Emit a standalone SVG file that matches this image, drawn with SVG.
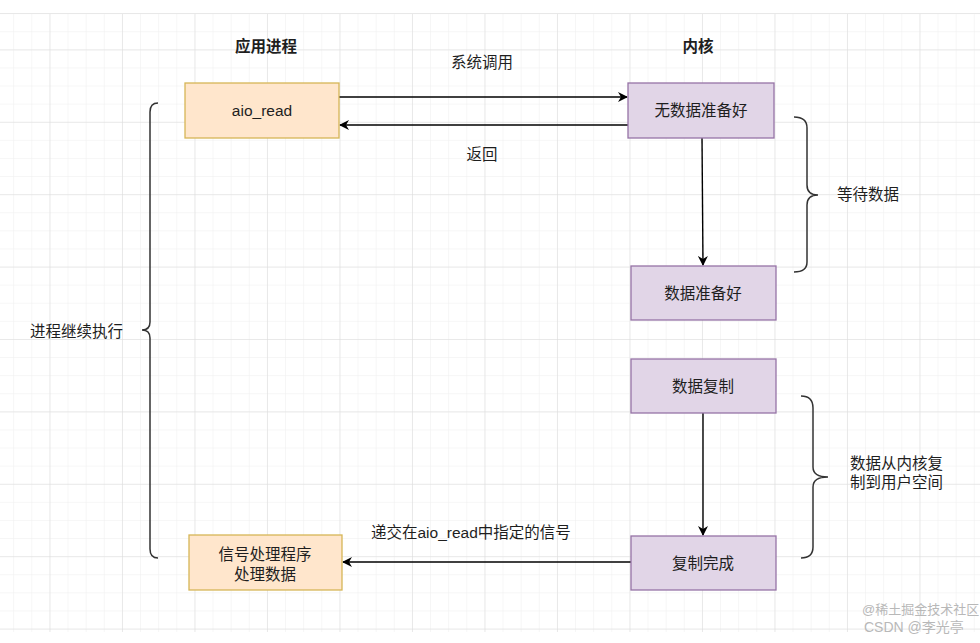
<svg xmlns="http://www.w3.org/2000/svg" width="980" height="643" viewBox="0 0 980 643">
<defs>
<pattern id="minor" x="-4" y="-4" width="18.125" height="18.1" patternUnits="userSpaceOnUse">
<path d="M18.125 0V18.1M0 18.1H18.125" fill="none" stroke="#eeeeee" stroke-width="1"/>
</pattern>
<pattern id="major" x="-22" y="-22" width="72.5" height="72.4" patternUnits="userSpaceOnUse">
<path d="M72.5 0V72.4M0 72.4H72.5" fill="none" stroke="#dcdcdc" stroke-width="1"/>
</pattern>
<marker id="arr" viewBox="0 0 10 10" refX="9" refY="5" markerWidth="10" markerHeight="10" markerUnits="userSpaceOnUse" orient="auto">
<path d="M0 0L10 5L0 10L3 5Z" fill="#000"/>
</marker>
<style>
text{font-family:"Liberation Sans","Noto Sans CJK SC",sans-serif;font-size:15.5px;fill:#1e1e1e}
.c{text-anchor:middle}
.b{font-weight:bold}
.y{fill:#ffe6cc;stroke:#d6b656;stroke-width:1.3}
.p{fill:#e1d5e7;stroke:#9673a6;stroke-width:1.3}
.e{fill:none;stroke:#000;stroke-width:1.4}
.br{fill:none;stroke:#333;stroke-width:1.5}
.w{font-size:13px;fill:#b8b8b8}
.w2{font-size:14px;fill:#b8b8b8}
</style>
</defs>
<rect width="980" height="643" fill="#fff"/>
<rect x="0" y="13" width="980" height="619" fill="url(#minor)"/>
<rect x="0" y="13" width="980" height="619" fill="url(#major)"/>
<line x1="0" y1="13.5" x2="980" y2="13.5" stroke="#e8e8e8"/>

<g id="headers">
<text class="c b" x="266" y="52">应用进程</text>
<text class="c b" x="698" y="52">内核</text>
</g>

<g id="connectors">
<line class="e" x1="339" y1="97" x2="627" y2="97" marker-end="url(#arr)"/>
<line class="e" x1="628" y1="125" x2="340" y2="125" marker-end="url(#arr)"/>
<line class="e" x1="702" y1="138" x2="703" y2="265" marker-end="url(#arr)"/>
<line class="e" x1="703" y1="413" x2="703" y2="535" marker-end="url(#arr)"/>
<line class="e" x1="631" y1="562" x2="343" y2="562" marker-end="url(#arr)"/>
<text class="c" x="482" y="68">系统调用</text>
<text class="c" x="482" y="160">返回</text>
<text x="371" y="538">递交在aio_read中指定的信号</text>
</g>

<g id="aio_read">
<rect class="y" x="185" y="83" width="154" height="55"/>
<text class="c" x="262" y="116">aio_read</text>
</g>
<g id="no_data">
<rect class="p" x="628" y="83" width="146" height="55"/>
<text class="c" x="701" y="116">无数据准备好</text>
</g>
<g id="data_ready">
<rect class="p" x="631" y="266" width="145" height="54"/>
<text class="c" x="703" y="299">数据准备好</text>
</g>
<g id="data_copy">
<rect class="p" x="631" y="359" width="145" height="54"/>
<text class="c" x="703" y="392">数据复制</text>
</g>
<g id="copy_done">
<rect class="p" x="631" y="536" width="145" height="54"/>
<text class="c" x="703" y="569">复制完成</text>
</g>
<g id="signal_handler">
<rect class="y" x="189" y="535" width="153" height="55"/>
<text class="c" x="265" y="560">信号处理程序</text>
<text class="c" x="265" y="580">处理数据</text>
</g>

<g id="brace_left">
<path class="br" d="M158 103Q150 103 150 112V322Q150 330 142 330Q150 330 150 338V549Q150 558 158 558"/>
<text x="30" y="337">进程继续执行</text>
</g>
<g id="brace_wait">
<path class="br" d="M794 117Q807 117 807 128V185Q807 195 818 195Q807 195 807 205V262Q807 272 794 272"/>
<text x="837" y="200">等待数据</text>
</g>
<g id="brace_copy">
<path class="br" d="M801 396Q813 396 813 408V467Q813 477 828 477Q813 477 813 487V547Q813 558 801 558"/>
<text x="850" y="469">数据从内核复</text>
<text x="850" y="488">制到用户空间</text>
</g>

<g id="watermark">
<text class="w" x="862" y="614">@稀土掘金技术社区</text>
<text class="w2" x="864" y="632">CSDN @李光亭</text>
</g>
</svg>
